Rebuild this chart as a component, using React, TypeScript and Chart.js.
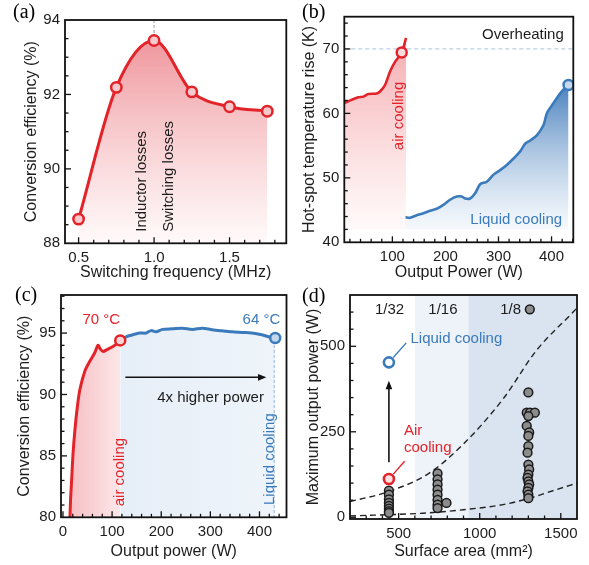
import React, { useEffect, useRef } from "react";
import { Chart, registerables } from "chart.js";

Chart.register(...registerables);

const SANS = '"Liberation Sans", Arial, Helvetica, sans-serif';
const SERIF = '"Liberation Serif", "Times New Roman", serif';
const RED = "#e3232a";
const BLUE = "#3b7bbb";
const INK = "#1c1c1c";

/* ---------- (a) efficiency vs switching frequency ---------- */
const freqMHz = [0.5, 0.75, 1.0, 1.25, 1.5, 1.75];
const efficiencyA = [88.65, 92.19, 93.45, 92.07, 91.67, 91.55];
const aXTicks = [0.5, 1.0, 1.5];
const aYTicks = [88, 90, 92, 94];

/* ---------- (b) hot-spot temperature rise ---------- */
const airPowerB = [9.4, 23.3, 35.8, 45.3, 54.7, 70.4, 76.7, 86.2, 95.6, 105, 117.6, 125.8];
const airTempB = [61.6, 62.1, 62.5, 62.6, 63.0, 63.1, 63.4, 64.4, 66.5, 68.0, 69.45, 71.7];
const liqPowerB = [123.9, 133.3, 145.9, 158.5, 171, 183.6, 196.2, 208.8, 221.4, 230.8, 237.1, 246.5, 256, 265.4, 278, 290.6, 303.1, 315.7, 328.3, 340.9, 350.3, 359.7, 372.3, 384.9, 391.2, 403.8, 416.4, 425.8, 432];
const liqTempB = [43.9, 43.8, 44.2, 44.5, 44.9, 45.2, 45.8, 46.6, 47.1, 47.1, 46.8, 46.8, 47.6, 49.0, 49.4, 50.5, 51.2, 52.0, 53.0, 54.1, 55.3, 55.8, 56.6, 58.2, 60.0, 61.6, 63.1, 64.0, 64.4];
const markPowerB = [117.6, 432];
const markTempB = [69.45, 64.4];
const overheatK = 70;
const bXTicks = [100, 200, 300, 400];
const bYTicks = [40, 50, 60, 70];

/* ---------- (c) efficiency vs output power ---------- */
const airPowerC = [14.2, 15.5, 17.6, 20.5, 24.3, 29, 34.4, 44.5, 54.6, 64.7, 71.4, 76, 81.5, 91.6, 101.7, 111.8, 116.6];
const airEffC = [80, 81.5, 83.0, 85.2, 87.1, 88.9, 90.4, 91.9, 92.7, 93.4, 94.0, 93.7, 93.5, 93.7, 93.9, 94.2, 94.4];
const liqPowerC = [116.6, 128.7, 142.2, 155.6, 169.1, 179.2, 189.3, 202.7, 222.9, 243.1, 263.3, 283.5, 303.7, 323.9, 344.1, 364.3, 384.5, 404.7, 421.5, 432];
const liqEffC = [94.4, 94.7, 94.86, 95.0, 95.0, 95.2, 95.1, 95.3, 95.35, 95.4, 95.3, 95.4, 95.27, 95.18, 95.1, 95.05, 95.0, 94.86, 94.67, 94.6];
const markPowerC = [116.6, 432];
const markEffC = [94.4, 94.6];
const cXTicks = [0, 100, 200, 300, 400];
const cYTicks = [80, 85, 90, 95];

/* ---------- (d) max output power vs surface area ---------- */
const areaD = [440, 440, 440, 440, 440, 440, 440, 440,
  740, 740, 740, 740, 740, 740, 740, 740, 795,
  1309, 1300, 1290, 1310, 1340, 1300, 1290, 1305, 1300, 1300, 1295, 1300, 1305, 1300, 1295, 1300, 1305, 1300, 1295, 1300, 1300];
const powerD = [78, 66, 52, 42, 33, 25, 18, 13,
  128, 111, 96, 81, 66, 51, 37, 27, 42,
  608, 365, 306, 306, 306, 296, 267, 248, 238, 208, 189, 154, 140, 125, 115, 105, 96, 86, 76, 66, 56];
const airAreaD = [440];
const airPowerD = [112];
const liqAreaD = [440];
const liqPowerD = [453];
const upperArea = [200, 444, 691, 897, 1144, 1350, 1576, 1600];
const upperPower = [46, 76, 130, 213, 346, 488, 600, 612];
const lowerArea = [200, 650, 897, 1144, 1309, 1473, 1600];
const lowerPower = [4, 12, 22, 37, 56, 81, 100];
const brickLabels = ["1/32", "1/16", "1/8"];
const brickBounds = [200, 600, 930, 1600];
const dXTicks = [500, 1000, 1500];
const dYTicks = [0, 250, 500];

/* ---------- helpers ---------- */
const TITLE_SIZE = 16;
const xy = (xs: number[], ys: number[]) => xs.map((x, i) => ({ x, y: ys[i] }));

function axis(o: any) {
  return {
    type: "linear",
    min: o.min,
    max: o.max,
    afterBuildTicks: (s: any) => {
      s.ticks = o.ticks.map((value: number) => ({ value }));
    },
    afterFit: (s: any) => {
      if (o.axis === "x") s.height = o.size;
      else s.width = o.size;
      s.paddingLeft = 0;
      s.paddingRight = 0;
      s.paddingTop = 0;
      s.paddingBottom = 0;
    },
    grid: { display: false, drawTicks: false },
    border: { display: false },
    ticks: {
      autoSkip: false,
      maxRotation: 0,
      padding: o.axis === "x" ? 6 : 5,
      color: INK,
      font: { family: SANS, size: 15 },
      callback: (v: any) => o.fmt(Number(v)),
    },
    title: { display: true, text: o.title, color: INK, padding: 0, font: { family: SANS, size: TITLE_SIZE } },
  };
}

function drawTicks(chart: any, t: any) {
  const { ctx, chartArea: a, scales } = chart;
  const run = (scale: any, minor: number, major: number, horiz: boolean) => {
    const min = scale.min, max = scale.max;
    for (let k = Math.ceil(min / minor - 1e-6); k * minor <= max + 1e-7; k++) {
      const v = k * minor;
      if (v <= min + 1e-6 || v >= max - 1e-6) continue;
      const isMajor = Math.abs(v / major - Math.round(v / major)) < 1e-6;
      const len = isMajor ? 6 : 3.5;
      const p = scale.getPixelForValue(v);
      ctx.beginPath();
      if (horiz) {
        ctx.moveTo(p, a.bottom);
        ctx.lineTo(p, a.bottom - len);
      } else {
        ctx.moveTo(a.left, p);
        ctx.lineTo(a.left + len, p);
      }
      ctx.stroke();
    }
  };
  ctx.save();
  ctx.strokeStyle = "#111";
  ctx.lineWidth = 1.3;
  run(scales.x, t.xMinor, t.xMajor, true);
  run(scales.y, t.yMinor, t.yMajor, false);
  ctx.lineWidth = 1.8;
  ctx.strokeRect(a.left, a.top, a.right - a.left, a.bottom - a.top);
  ctx.restore();
}

function decor(spec: any) {
  return {
    id: "decor",
    beforeDatasetsDraw(chart: any) {
      if (spec.under) spec.under(chart);
    },
    afterDatasetsDraw(chart: any) {
      if (spec.over) spec.over(chart);
    },
    afterDraw(chart: any) {
      drawTicks(chart, spec);
      const ctx = chart.ctx;
      ctx.save();
      ctx.font = `20px ${SERIF}`;
      ctx.fillStyle = "#000";
      ctx.textAlign = "left";
      ctx.textBaseline = "alphabetic";
      ctx.fillText(spec.letter, spec.letterPos[0], spec.letterPos[1]);
      ctx.restore();
    },
  };
}

function text(chart: any, str: string, xv: number, yv: number, color: string, align: CanvasTextAlign = "center", rot = false, size = 15) {
  const { ctx, scales } = chart;
  const px = scales.x.getPixelForValue(xv);
  const py = scales.y.getPixelForValue(yv);
  ctx.save();
  ctx.font = `${size}px ${SANS}`;
  ctx.fillStyle = color;
  ctx.textBaseline = "middle";
  ctx.textAlign = align;
  ctx.translate(px, py);
  if (rot) ctx.rotate(-Math.PI / 2);
  ctx.fillText(str, 0, 0);
  ctx.restore();
}

function arrow(ctx: any, x1: number, y1: number, x2: number, y2: number, color: string, head = 9) {
  const ang = Math.atan2(y2 - y1, x2 - x1);
  ctx.save();
  ctx.strokeStyle = color;
  ctx.fillStyle = color;
  ctx.lineWidth = 1.6;
  ctx.beginPath();
  ctx.moveTo(x1, y1);
  ctx.lineTo(x2 - head * 0.7 * Math.cos(ang), y2 - head * 0.7 * Math.sin(ang));
  ctx.stroke();
  ctx.beginPath();
  ctx.moveTo(x2, y2);
  ctx.lineTo(x2 - head * Math.cos(ang - 0.38), y2 - head * Math.sin(ang - 0.38));
  ctx.lineTo(x2 - head * Math.cos(ang + 0.38), y2 - head * Math.sin(ang + 0.38));
  ctx.closePath();
  ctx.fill();
  ctx.restore();
}

function leader(chart: any, fromX: number, fromY: number, toX: number, toY: number, r: number, color: string) {
  const { ctx, scales } = chart;
  const x1 = scales.x.getPixelForValue(fromX), y1 = scales.y.getPixelForValue(fromY);
  const x2 = scales.x.getPixelForValue(toX), y2 = scales.y.getPixelForValue(toY);
  const ang = Math.atan2(y2 - y1, x2 - x1);
  ctx.save();
  ctx.strokeStyle = color;
  ctx.lineWidth = 1.4;
  ctx.beginPath();
  ctx.moveTo(x1 + r * Math.cos(ang), y1 + r * Math.sin(ang));
  ctx.lineTo(x2, y2);
  ctx.stroke();
  ctx.restore();
}

function vGrad(chart: any, topVal: number, botVal: number, c0: string, c1: string) {
  const { ctx, chartArea, scales } = chart;
  if (!chartArea) return "transparent";
  const g = ctx.createLinearGradient(0, scales.y.getPixelForValue(topVal), 0, scales.y.getPixelForValue(botVal));
  g.addColorStop(0, c0);
  g.addColorStop(1, c1);
  return g;
}

function hGrad(chart: any, leftVal: number, rightVal: number, c0: string, c1: string) {
  const { ctx, chartArea, scales } = chart;
  if (!chartArea) return "transparent";
  const g = ctx.createLinearGradient(scales.x.getPixelForValue(leftVal), 0, scales.x.getPixelForValue(rightVal), 0);
  g.addColorStop(0, c0);
  g.addColorStop(1, c1);
  return g;
}

const baseOptions = (pad: any, x: any, y: any) => ({
  responsive: false,
  animation: false,
  events: [],
  layout: { padding: pad },
  plugins: { legend: { display: false }, tooltip: { enabled: false } },
  scales: { x, y },
});

/* ---------- panel configs ---------- */
function configA() {
  return {
    type: "line",
    data: {
      datasets: [
        {
          data: xy(freqMHz, efficiencyA),
          showLine: false,
          pointRadius: 5.2,
          pointBorderWidth: 2.5,
          pointBorderColor: RED,
          pointBackgroundColor: "#f8c9cc",
        },
        {
          data: xy(freqMHz, efficiencyA),
          borderColor: RED,
          borderWidth: 3,
          pointRadius: 0,
          cubicInterpolationMode: "monotone",
          fill: "start",
          backgroundColor: (c: any) => vGrad(c.chart, 94, 88, "rgba(234,118,126,0.85)", "rgba(255,246,246,0.6)"),
        },
      ],
    },
    options: baseOptions(
      { left: 22.4, top: 20, right: 4.7, bottom: 0 },
      axis({ axis: "x", min: 0.41, max: 1.876, ticks: aXTicks, fmt: (v: number) => v.toFixed(1), title: "Switching frequency (MHz)", size: 38.7 }),
      axis({ axis: "y", min: 88, max: 94, ticks: aYTicks, fmt: (v: number) => String(v), title: "Conversion efficiency (%)", size: 42.6 })
    ),
    plugins: [
      decor({
        letter: "(a)",
        letterPos: [13, 18],
        xMinor: 0.1, xMajor: 0.5, yMinor: 0.5, yMajor: 2,
        under(chart: any) {
          const { ctx, chartArea: a, scales } = chart;
          const px = scales.x.getPixelForValue(freqMHz[2]);
          const py = scales.y.getPixelForValue(efficiencyA[2]);
          ctx.save();
          ctx.strokeStyle = "#bdbdbd";
          ctx.lineWidth = 1.5;
          ctx.setLineDash([3, 2]);
          ctx.beginPath();
          ctx.moveTo(px, a.top);
          ctx.lineTo(px, py - 6);
          ctx.stroke();
          ctx.restore();
        },
        over(chart: any) {
          text(chart, "Inductor losses", 0.918, 88.31, INK, "left", true);
          text(chart, "Switching losses", 1.096, 88.31, INK, "left", true);
        },
      }),
    ],
  };
}

function configB() {
  return {
    type: "line",
    data: {
      datasets: [
        {
          data: xy(markPowerB, markTempB),
          showLine: false,
          pointRadius: 5,
          pointBorderWidth: 2.5,
          pointBorderColor: [RED, BLUE],
          pointBackgroundColor: ["#fbdadc", "#c6d9ed"],
        },
        {
          data: xy(airPowerB, airTempB),
          borderColor: RED,
          borderWidth: 2.6,
          pointRadius: 0,
          tension: 0.3,
          fill: { value: 42 },
          backgroundColor: (c: any) => vGrad(c.chart, 72, 42, "rgba(242,140,146,0.75)", "rgba(255,244,244,0.5)"),
        },
        {
          data: xy(liqPowerB, liqTempB),
          borderColor: BLUE,
          borderWidth: 2.6,
          pointRadius: 0,
          tension: 0.3,
          fill: { value: 42 },
          backgroundColor: (c: any) => vGrad(c.chart, 65, 42, "rgba(58,118,184,0.95)", "rgba(236,243,250,0.5)"),
        },
      ],
    },
    options: baseOptions(
      { left: 6.4, top: 16.7, right: 15.7, bottom: 0 },
      axis({ axis: "x", min: 9.4, max: 441, ticks: bXTicks, fmt: (v: number) => String(v), title: "Output Power (W)", size: 39.7 }),
      axis({ axis: "y", min: 40, max: 75, ticks: bYTicks, fmt: (v: number) => String(v), title: "Hot-spot temperature rise (K)", size: 43.9 })
    ),
    plugins: [
      decor({
        letter: "(b)",
        letterPos: [8, 18],
        xMinor: 20, xMajor: 100, yMinor: 2, yMajor: 10,
        under(chart: any) {
          const { ctx, chartArea: a, scales } = chart;
          const py = scales.y.getPixelForValue(overheatK);
          ctx.save();
          ctx.strokeStyle = "#b9cfe4";
          ctx.lineWidth = 1.2;
          ctx.setLineDash([4, 3]);
          ctx.beginPath();
          ctx.moveTo(a.left, py);
          ctx.lineTo(a.right, py);
          ctx.stroke();
          ctx.restore();
        },
        over(chart: any) {
          text(chart, "Overheating", 423, 72.2, INK, "right");
          text(chart, "air cooling", 111.3, 54.3, RED, "left", true);
          text(chart, "Liquid cooling", 333.4, 43.5, BLUE, "center");
        },
      }),
    ],
  };
}

function configC() {
  return {
    type: "line",
    data: {
      datasets: [
        {
          data: xy(markPowerC, markEffC),
          showLine: false,
          pointRadius: 5,
          pointBorderWidth: 2.5,
          pointBorderColor: [RED, BLUE],
          pointBackgroundColor: ["#fbd6d8", "#c2d7ec"],
        },
        {
          data: xy(airPowerC, airEffC),
          borderColor: RED,
          borderWidth: 3,
          pointRadius: 0,
          tension: 0.25,
          fill: "start",
          backgroundColor: (c: any) => hGrad(c.chart, 14, 120, "#f6bfc3", "#fde8ea"),
        },
        {
          data: xy(liqPowerC, liqEffC),
          borderColor: BLUE,
          borderWidth: 3,
          pointRadius: 0,
          tension: 0.3,
          fill: "start",
          backgroundColor: (c: any) => hGrad(c.chart, 120, 432, "#e6eef7", "#eef4fa"),
        },
      ],
    },
    options: baseOptions(
      { left: 15.4, top: 13, right: 6, bottom: 3.7 },
      axis({ axis: "x", min: -4, max: 455, ticks: cXTicks, fmt: (v: number) => String(v), title: "Output power (W)", size: 44 }),
      axis({ axis: "y", min: 80, max: 98.1, ticks: cYTicks, fmt: (v: number) => String(v), title: "Conversion efficiency (%)", size: 45.6 })
    ),
    plugins: [
      decor({
        letter: "(c)",
        letterPos: [15, 19],
        xMinor: 20, xMajor: 100, yMinor: 1, yMajor: 5,
        over(chart: any) {
          const { ctx, chartArea: a, scales } = chart;
          const px = scales.x.getPixelForValue(markPowerC[1]) - 1;
          const py = scales.y.getPixelForValue(markEffC[1]);
          ctx.save();
          ctx.strokeStyle = "#9dbfe0";
          ctx.lineWidth = 1.1;
          ctx.setLineDash([3, 2]);
          ctx.beginPath();
          ctx.moveTo(px, py + 7);
          ctx.lineTo(px, a.bottom);
          ctx.stroke();
          ctx.restore();
          const ay = scales.y.getPixelForValue(91.4);
          arrow(ctx, scales.x.getPixelForValue(127), ay, scales.x.getPixelForValue(414), ay, "#111");
          text(chart, "70 \u00b0C", 78, 96.1, RED);
          text(chart, "64 \u00b0C", 404, 96.1, BLUE);
          text(chart, "4x higher power", 300.4, 89.7, INK);
          text(chart, "air cooling", 115.2, 80.9, RED, "left", true);
          text(chart, "Liquid cooling", 421.7, 81, BLUE, "left", true);
        },
      }),
    ],
  };
}

function configD() {
  return {
    type: "line",
    data: {
      datasets: [
        {
          data: xy(liqAreaD, liqPowerD),
          showLine: false,
          pointRadius: 5,
          pointBorderWidth: 2.6,
          pointBorderColor: BLUE,
          pointBackgroundColor: "#ffffff",
        },
        {
          data: xy(airAreaD, airPowerD),
          showLine: false,
          pointRadius: 5,
          pointBorderWidth: 2.6,
          pointBorderColor: RED,
          pointBackgroundColor: "#fde3e4",
        },
        {
          data: xy(areaD, powerD),
          showLine: false,
          pointRadius: 4.4,
          pointBorderWidth: 1.5,
          pointBorderColor: "#1a1a1a",
          pointBackgroundColor: "#8c8c8c",
        },
        {
          data: xy(upperArea, upperPower),
          borderColor: "#222",
          borderWidth: 1.4,
          borderDash: [6, 4],
          pointRadius: 0,
          cubicInterpolationMode: "monotone",
          fill: false,
        },
        {
          data: xy(lowerArea, lowerPower),
          borderColor: "#222",
          borderWidth: 1.4,
          borderDash: [6, 4],
          pointRadius: 0,
          cubicInterpolationMode: "monotone",
          fill: false,
        },
      ],
    },
    options: baseOptions(
      { left: 9.7, top: 13, right: 12, bottom: 3.7 },
      axis({ axis: "x", min: 200, max: 1600, ticks: dXTicks, fmt: (v: number) => String(v), title: "Surface area (mm\u00b2)", size: 42.3 }),
      axis({ axis: "y", min: -5, max: 650, ticks: dYTicks, fmt: (v: number) => String(v), title: "Maximum output power (W)", size: 46.3 })
    ),
    plugins: [
      decor({
        letter: "(d)",
        letterPos: [8, 20],
        xMinor: 100, xMajor: 500, yMinor: 50, yMajor: 250,
        under(chart: any) {
          const { ctx, chartArea: a, scales } = chart;
          const fills = ["rgba(255,255,255,0)", "#eef3f9", "#d9e4f0"];
          ctx.save();
          for (let i = 0; i < brickLabels.length; i++) {
            const x0 = scales.x.getPixelForValue(brickBounds[i]);
            const x1 = scales.x.getPixelForValue(brickBounds[i + 1]);
            ctx.fillStyle = fills[i];
            ctx.fillRect(x0, a.top, x1 - x0, a.bottom - a.top);
          }
          ctx.restore();
        },
        over(chart: any) {
          const { ctx, scales } = chart;
          const labelX = [444, 773, 1191];
          brickLabels.forEach((s, i) => text(chart, s, labelX[i], 608, INK));
          const ax = scales.x.getPixelForValue(airAreaD[0]);
          arrow(ctx, ax, scales.y.getPixelForValue(161), ax, scales.y.getPixelForValue(399), "#111");
          leader(chart, liqAreaD[0], liqPowerD[0], 547, 510, 6.5, BLUE);
          leader(chart, airAreaD[0], airPowerD[0], 537, 164, 6.5, RED);
          text(chart, "Liquid cooling", 856, 522, BLUE);
          text(chart, "Air", 533, 252, RED, "left");
          text(chart, "cooling", 533, 203, RED, "left");
        },
      }),
    ],
  };
}

function Panel({ left, top, width, height, make }: any) {
  const ref = useRef<HTMLCanvasElement>(null);
  useEffect(() => {
    const chart = new Chart(ref.current as HTMLCanvasElement, make() as any);
    return () => chart.destroy();
  }, [make]);
  return (
    <div style={{ position: "absolute", left, top, width, height }}>
      <canvas ref={ref} width={width} height={height} style={{ width, height, display: "block" }} />
    </div>
  );
}

export default function App() {
  return (
    <div style={{ position: "fixed", left: 0, top: 0, width: 589, height: 565, background: "#fff", overflow: "hidden" }}>
      <Panel left={0} top={0} width={294} height={282} make={configA} />
      <Panel left={294} top={0} width={295} height={282} make={configB} />
      <Panel left={0} top={282} width={294} height={283} make={configC} />
      <Panel left={294} top={282} width={295} height={283} make={configD} />
    </div>
  );
}
